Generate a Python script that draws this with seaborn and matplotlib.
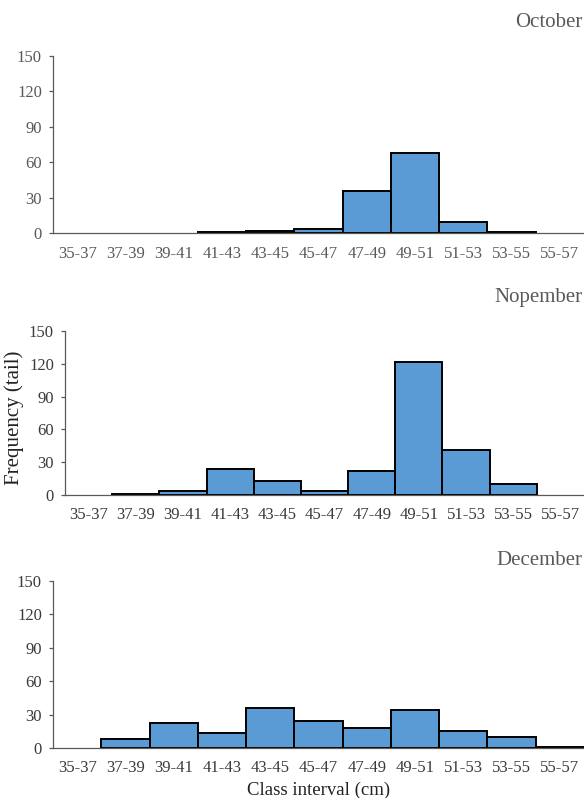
import pandas as pd
import matplotlib
matplotlib.use('Agg')
import matplotlib.pyplot as plt
import seaborn as sns


classes = ['35-37', '37-39', '39-41', '41-43', '43-45', '45-47',
           '47-49', '49-51', '51-53', '53-55', '55-57']

october = [0, 0, 0, 1, 2, 3, 36, 68, 9, 1, 0]
nopember = [0, 1, 4, 24, 13, 4, 22, 122, 41, 10, 0]
december = [0, 8, 22, 13, 36, 24, 18, 34, 15, 10, 1]

months = ['October', 'Nopember', 'December']
y_ticks = [0, 30, 60, 90, 120, 150]

sns.set_style('ticks')
plt.rcParams['font.family'] = ['Liberation Serif', 'DejaVu Serif']

fig = plt.figure(figsize=(5.84, 7.98), dpi=100)

# axes boxes in figure fractions: left, bottom, width, height
boxes = [[0.0908, 0.7080, 0.9092, 0.2218],
         [0.1113, 0.3797, 0.8887, 0.2055],
         [0.0908, 0.0627, 0.9092, 0.2092]]
title_y = [0.9724, 0.6266, 0.2970]
label_col = ['#595959', '#3a3a3a', '#3a3a3a']

for i, vals in enumerate([october, nopember, december]):
    ax = fig.add_axes(boxes[i])
    df = pd.DataFrame({'Class': classes, 'Frequency': vals})
    sns.barplot(data=df, x='Class', y='Frequency', ax=ax, color='#5B9BD5',
                saturation=1, width=1, edgecolor='black', linewidth=1.4)
    # empty classes show no bar outline
    for p in ax.patches:
        if p.get_height() == 0:
            p.set_visible(False)
    ax.set_ylim(0, 150)
    ax.set_xlim(-0.5, 10.5)
    ax.set_yticks(y_ticks)
    ax.set_xlabel('')
    ax.set_ylabel('')
    sns.despine(ax=ax)
    for s in ['left', 'bottom']:
        ax.spines[s].set_color('#595959')
        ax.spines[s].set_linewidth(0.9)
    ax.tick_params(axis='y', length=3, width=0.9, color='#595959',
                   labelsize=12, labelcolor=label_col[i], pad=5)
    ax.tick_params(axis='x', length=0, labelsize=12,
                   labelcolor=label_col[i], pad=9)
    fig.text(0.9966, title_y[i], months[i], ha='right', va='center',
             fontsize=15, color='#595959')

fig.text(0.024, 0.4768, 'Frequency (tail)', rotation=90, ha='center',
         va='center', fontsize=15, color='#222222')
fig.text(0.545, 0.0100, 'Class interval (cm)', ha='center', va='center',
         fontsize=13.5, color='#222222')

plt.savefig('out.png', dpi=100)
